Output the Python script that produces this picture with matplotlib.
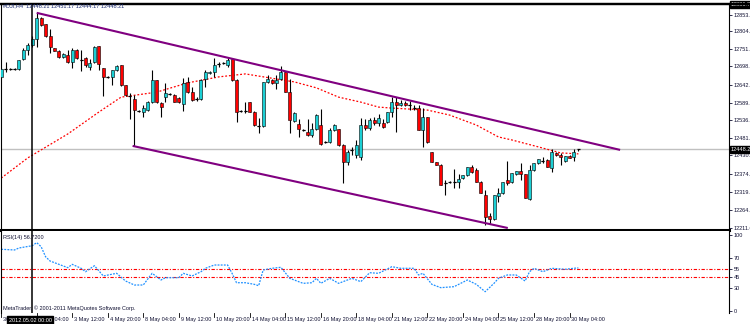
import numpy as np
import matplotlib.pyplot as plt
from matplotlib.patches import Rectangle
from matplotlib.lines import Line2D
import matplotlib.transforms as mtransforms

plt.rcParams['font.family'] = ['Liberation Sans', 'DejaVu Sans']

symbol = "#DJI,H4"

bars = np.arange(-8, 123)
opens = [12667, 12691, 12691, 12690, 12691, 12721, 12748, 12763, 12781, 12845, 12826, 12790, 12754, 12745, 12727, 12733,
         12712, 12748, 12718, 12724, 12697, 12712, 12760, 12694, 12667, 12667, 12688, 12703, 12643, 12609, 12600, 12564,
         12561, 12567, 12591, 12658, 12588, 12606, 12615, 12612, 12603, 12585, 12652, 12621, 12600, 12600, 12661, 12679,
         12682, 12706, 12709, 12703, 12721, 12658, 12564, 12564, 12591, 12561, 12519, 12519, 12652, 12658, 12649, 12661,
         12682, 12621, 12534, 12525, 12507, 12501, 12492, 12510, 12522, 12471, 12471, 12507, 12510, 12462, 12411, 12447,
         12432, 12426, 12522, 12513, 12537, 12528, 12528, 12531, 12561, 12591, 12582, 12588, 12582, 12573, 12573, 12507,
         12546, 12441, 12411, 12402, 12347, 12350, 12350, 12350, 12362, 12371, 12396, 12386, 12350, 12311, 12248, 12239,
         12308, 12317, 12356, 12350, 12374, 12383, 12374, 12299, 12386, 12408, 12414, 12417, 12392, 12438, 12432, 12414,
         12429, 12426, 12448.21]
highs = [12694, 12712, 12694, 12694, 12718, 12754, 12769, 12790, 12860, 12848, 12826, 12811, 12754, 12748, 12739, 12748,
         12754, 12751, 12748, 12727, 12721, 12760, 12761, 12695, 12670, 12688, 12703, 12704, 12644, 12618, 12612, 12567,
         12582, 12594, 12688, 12659, 12591, 12649, 12618, 12615, 12606, 12664, 12667, 12637, 12606, 12661, 12688, 12685,
         12724, 12712, 12712, 12724, 12724, 12661, 12567, 12591, 12592, 12564, 12543, 12652, 12673, 12661, 12673, 12700,
         12683, 12661, 12561, 12540, 12510, 12540, 12528, 12555, 12570, 12474, 12513, 12525, 12511, 12465, 12447, 12456,
         12477, 12543, 12540, 12543, 12546, 12555, 12540, 12561, 12606, 12606, 12597, 12594, 12594, 12582, 12582, 12573,
         12547, 12442, 12412, 12403, 12356, 12353, 12389, 12374, 12371, 12396, 12402, 12392, 12353, 12326, 12257, 12311,
         12332, 12350, 12414, 12377, 12383, 12408, 12375, 12402, 12408, 12420, 12426, 12420, 12450, 12441, 12438, 12429,
         12432, 12450, 12451.17]
lows = [12664, 12682, 12688, 12688, 12688, 12718, 12733, 12757, 12757, 12820, 12787, 12739, 12745, 12724, 12724, 12709,
        12694, 12721, 12685, 12697, 12688, 12709, 12688, 12609, 12664, 12643, 12685, 12640, 12609, 12540, 12459, 12561,
        12546, 12564, 12588, 12588, 12546, 12591, 12612, 12591, 12588, 12564, 12618, 12594, 12594, 12597, 12637, 12676,
        12667, 12697, 12706, 12697, 12655, 12531, 12561, 12558, 12561, 12519, 12498, 12516, 12649, 12646, 12631, 12658,
        12621, 12498, 12531, 12486, 12504, 12489, 12486, 12507, 12462, 12468, 12468, 12504, 12459, 12347, 12402, 12432,
        12423, 12417, 12507, 12507, 12522, 12519, 12513, 12528, 12546, 12501, 12579, 12579, 12567, 12567, 12507, 12456,
        12468, 12411, 12402, 12341, 12311, 12347, 12332, 12332, 12359, 12368, 12377, 12350, 12317, 12221, 12224, 12236,
        12290, 12314, 12341, 12347, 12371, 12356, 12302, 12296, 12383, 12405, 12408, 12396, 12380, 12429, 12402, 12411,
        12423, 12414, 12444.17]
closes = [12691, 12692, 12690, 12691, 12718, 12748, 12763, 12781, 12845, 12823, 12790, 12757, 12745, 12727, 12736, 12712,
          12748, 12724, 12717, 12703, 12709, 12757, 12706, 12667, 12666, 12688, 12700, 12643, 12612, 12608, 12567, 12563,
          12573, 12591, 12658, 12591, 12576, 12618, 12616, 12592, 12591, 12649, 12621, 12597, 12599, 12658, 12682, 12682,
          12703, 12705, 12709, 12718, 12658, 12561, 12563, 12563, 12561, 12522, 12518, 12652, 12661, 12649, 12658, 12682,
          12621, 12537, 12558, 12510, 12506, 12492, 12510, 12552, 12465, 12470, 12507, 12522, 12462, 12411, 12441, 12446,
          12462, 12522, 12513, 12537, 12528, 12543, 12516, 12561, 12591, 12582, 12588, 12582, 12583, 12572, 12507, 12546,
          12471, 12411, 12402, 12341, 12346, 12350, 12349, 12359, 12371, 12396, 12380, 12350, 12317, 12245, 12239, 12311,
          12317, 12350, 12347, 12377, 12383, 12374, 12302, 12386, 12408, 12420, 12413, 12396, 12441, 12432, 12426, 12429,
          12423, 12441, 12448.21]

# moving average
ma_bars = [-8, -2, 7, 14, 19, 27, 34, 41, 47, 58, 63, 68, 73, 77, 80, 88, 93, 99, 104, 107, 113, 118, 122]
ma_vals = [12362, 12423, 12495, 12561, 12606, 12621, 12649, 12667, 12676, 12652, 12634, 12606, 12591, 12576, 12573,
           12567, 12552, 12522, 12486, 12477, 12456, 12438, 12435]

# channel lines (bar, price)
upper_line = [(0, 12860), (131.4, 12447)]
lower_line = [(21.6, 12459), (106.1, 12211.6)]

rsi_bars = [-8, -5, -4, -1, 0, 1, 2, 3, 5, 7, 8, 10, 11, 13, 15, 18, 20, 22, 24, 26, 28, 29, 32, 33, 35, 37, 38, 40,
            43, 44, 45, 47, 49, 50, 51, 53, 55, 57, 58, 60, 62, 63, 64, 66, 68, 71, 73, 75, 77, 80, 82, 85, 86, 87, 89,
            91, 94, 97, 99, 101, 103, 104, 106, 108, 110, 111, 112, 114, 116, 119, 121, 122]
rsi_vals = [81.2, 80.3, 82.9, 85.9, 90.0, 84.6, 71.4, 65.8, 61.4, 57.0, 61.4, 56.2, 51.7, 59.6, 46.1, 49.6, 39.5, 34.2,
            34.2, 49.6, 40.8, 43.8, 43.8, 49.6, 46.1, 51.7, 56.2, 60.5, 60.5, 49.6, 37.2, 37.2, 35.1, 33.3, 53.9, 56.2,
            57.5, 43.0, 40.8, 36.4, 37.2, 43.0, 36.4, 43.0, 36.4, 43.0, 38.6, 50.4, 49.6, 58.3, 56.2, 56.2, 47.4, 49.6,
            35.1, 30.7, 32.0, 40.8, 35.1, 25.4, 36.4, 43.0, 47.4, 47.4, 39.5, 51.7, 56.2, 51.7, 56.2, 54.9, 56.2, 56.72]
rsi_levels = [45, 55]

price_ticks = [12853.6, 12804.1, 12751.3, 12698.9, 12642.4, 12589.5, 12536.7, 12481.7, 12430.3, 12374.9, 12319.8,
               12264.6, 12211.6]
rsi_ticks = [0, 30, 45, 55, 70, 100]

time_bars = [-8] + list(range(0, 121, 8))
time_labels = ["30 Apr 2012", "2 May 04:00", "3 May 12:00", "4 May 20:00", "8 May 04:00", "9 May 12:00",
               "10 May 20:00", "14 May 04:00", "15 May 12:00", "16 May 20:00", "18 May 04:00", "21 May 12:00",
               "22 May 20:00", "24 May 04:00", "25 May 12:00", "28 May 20:00", "30 May 04:00"]
vline_bar = -1
vline_label = "2012.05.02 00:00"

W, H = 750, 324
fs = 4.0
bull = '#1ccfd4'
bear = '#ff0000'

fig = plt.figure(figsize=(W / 100, H / 100), dpi=100)


def px_axes(x0, y0, x1, y1):
    return fig.add_axes([x0 / W, 1 - y1 / H, (x1 - x0) / W, (y1 - y0) / H])


ax = px_axes(1, 4, 729, 230)
rax = px_axes(1, 231, 729, 313)
xlim = ((1 - 36.7) / 4.44, (729 - 36.7) / 4.44)
for a in (ax, rax):
    a.set_xlim(*xlim)
    a.set_xticks([])
    a.yaxis.tick_right()
    a.tick_params(axis='y', length=2, width=0.6, pad=1.5, labelsize=fs, colors='#111133')
    for s in a.spines.values():
        s.set_color('black')
        s.set_linewidth(0.8)
ax.set_ylim(12205.6, 12886.7)
rax.set_ylim(-2.63, 105.26)
ax.spines['bottom'].set_linewidth(2.2)
ax.spines['top'].set_linewidth(1.6)
rax.spines['top'].set_visible(False)
rax.spines['bottom'].set_visible(False)

ax.set_yticks(price_ticks)
ax.set_yticklabels(['%.1f' % v for v in price_ticks])
rax.set_yticks(rsi_ticks)
rax.set_yticklabels([str(v) for v in rsi_ticks])

# bid line
ax.axhline(closes[-1], color='#c0c0c0', lw=1, zorder=1)

# candles
bw = 0.68
for i, o, h, l, c in zip(bars, opens, highs, lows, closes):
    ax.vlines(i, l, h, color='black', lw=0.8, zorder=3)
    if c > o:
        ax.add_patch(Rectangle((i - bw / 2, o), bw, c - o, fc=bull, ec='black', lw=0.4, zorder=4))
    elif c < o:
        ax.add_patch(Rectangle((i - bw / 2, c), bw, o - c, fc=bear, ec='black', lw=0.4, zorder=4))
    if abs(c - o) < 3:
        ax.hlines(c, i - bw / 2, i + bw / 2, color='black', lw=0.9, zorder=5)

ax.plot(ma_bars, ma_vals, color='red', lw=0.9, linestyle=(0, (1.5, 1.5)), zorder=2)

for line in (upper_line, lower_line):
    xs, ys = zip(*line)
    ax.plot(xs, ys, color='#800080', lw=1.5, zorder=6, solid_capstyle='butt')

ax.axvline(vline_bar, color='black', lw=1.1, zorder=7)
rax.axvline(vline_bar, color='black', lw=1.1, zorder=7)

# RSI window
for lv in rsi_levels:
    rax.axhline(lv, color='red', lw=0.8, linestyle=(0, (3, 1.5, 1, 1.5)))
rax.plot(rsi_bars, rsi_vals, color='#1e90ff', lw=0.9, linestyle=(0, (1.5, 1)))

# price boxes on the scale
yblend = mtransforms.blended_transform_factory(ax.transAxes, ax.transData)
ax.text(1.002, closes[-1], '%.1f' % closes[-1], transform=yblend, fontsize=fs, color='white', va='center', ha='left',
        bbox=dict(boxstyle='square,pad=0.15', fc='black', ec='black'))
ax.text(1.002, 12885.0, '12886.7', transform=yblend, fontsize=fs, color='white', va='center', ha='left',
        bbox=dict(boxstyle='square,pad=0.15', fc='black', ec='black'), clip_on=False)

# headers
fig.text(3 / W, 1 - 6 / H, '%s  %.2f %.2f %.2f %.2f' % (symbol, opens[-1], highs[-1], lows[-1], closes[-1]),
         fontsize=fs, color='#1a2a70', va='center', ha='left')
fig.text(3 / W, 1 - 237 / H, 'RSI(14) %.4f' % rsi_vals[-1], fontsize=fs, color='#111133', va='center', ha='left')
fig.text(3 / W, 1 - 308 / H, 'MetaTrader, \u00a9 2001-2011 MetaQuotes Software Corp.', fontsize=fs,
         color='#111133', va='center', ha='left')

# top frame line over the scale too
fig.add_artist(Line2D([0, 1], [1 - 3.5 / H, 1 - 3.5 / H], color='black', lw=1.6))

# time scale
tblend = mtransforms.blended_transform_factory(rax.transData, fig.transFigure)
for b, lab in zip(time_bars, time_labels):
    fig.add_artist(Line2D([b, b], [1 - 313 / H, 1 - 317 / H], color='black', lw=0.6, transform=tblend))
    fig.text(b + 0.4, 1 - 320 / H, lab, transform=tblend, fontsize=fs, color='#111133', va='center', ha='left')
fig.text(vline_bar - 0.5, 1 - 320 / H, vline_label, transform=tblend, fontsize=fs, color='white', va='center',
         ha='center', bbox=dict(boxstyle='square,pad=0.2', fc='black', ec='black'))

fig.savefig('out.png', dpi=100)
